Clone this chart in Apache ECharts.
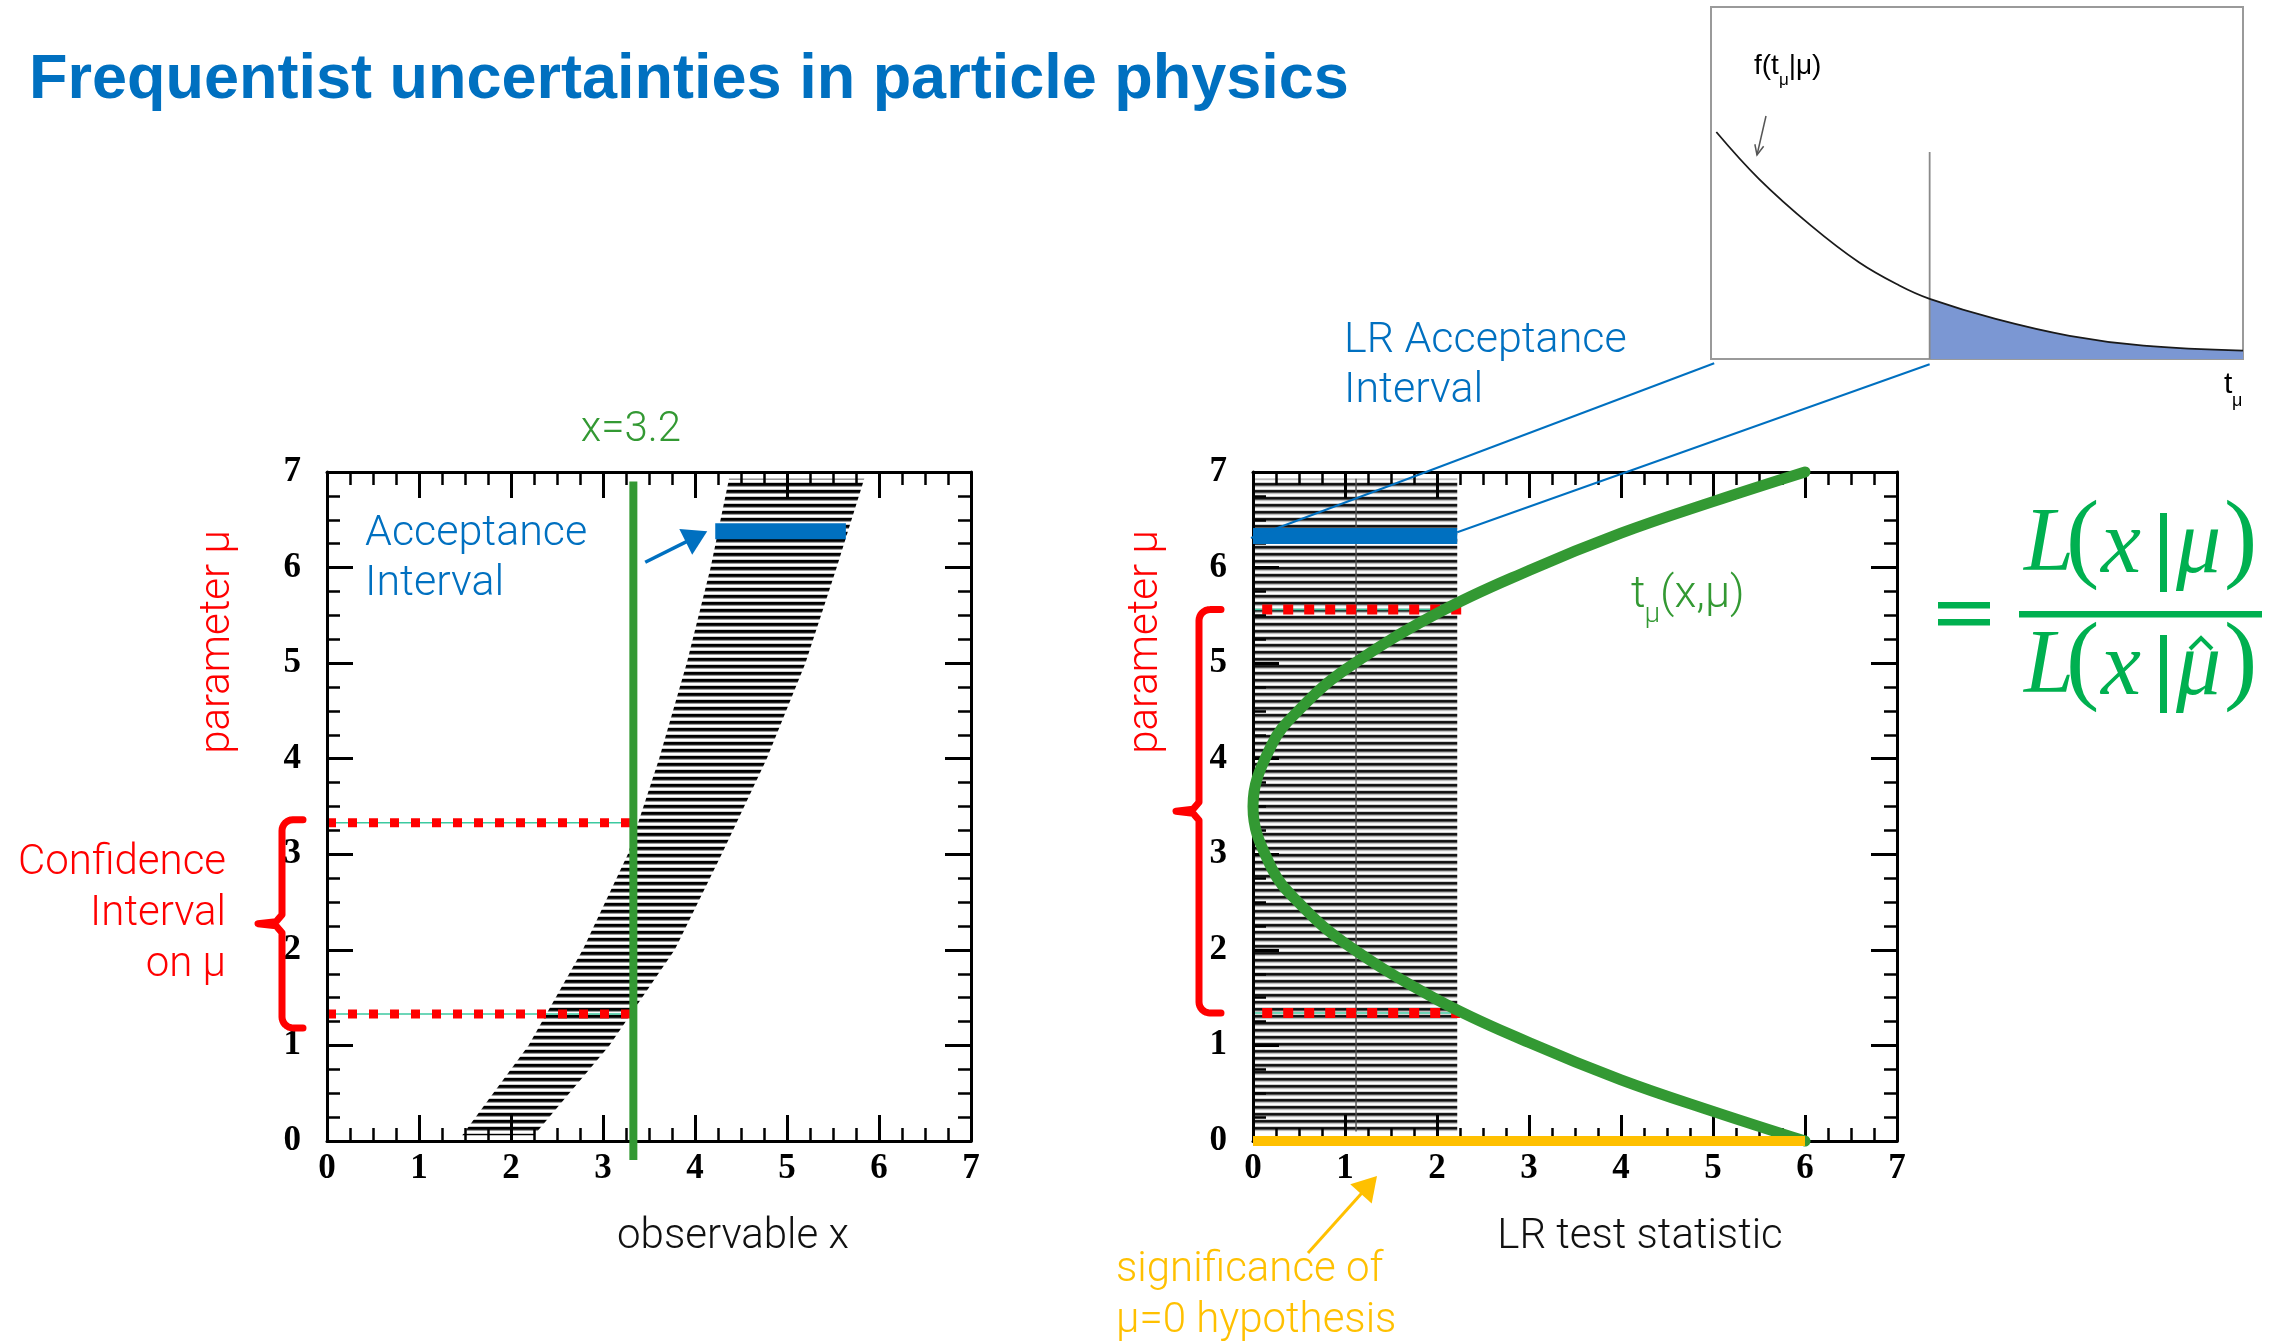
<!DOCTYPE html>
<html><head><meta charset="utf-8">
<script src="https://cdn.jsdelivr.net/npm/echarts@6/dist/echarts.min.js"></script>
<style>html,body{margin:0;padding:0;background:#fff}#c{width:2279px;height:1343px}</style>
</head><body><div id="c"></div>
<script>
// ================= DATA =================
const AXIS_MIN = 0, AXIS_MAX = 7, AXIS_STEP = 1;          // both panels: 0..7 on x and μ
// Left panel: Neyman confidence belt, edges read at several μ
const beltMu    = [0.06, 1.0, 2.0, 3.0, 4.0, 5.0, 6.0, 6.93];
const beltLower = [1.47, 2.19, 2.78, 3.27, 3.61, 3.91, 4.17, 4.37];
const beltUpper = [2.25, 3.07, 3.78, 4.29, 4.78, 5.20, 5.54, 5.84];
const observedX = 3.33;                  // green vertical line (labelled x=3.2)
const observedTop = 6.9;
const ciLeft = [1.33, 3.33];             // confidence interval on μ
const accLeftMu = 6.38, accLeftLo = 4.22, accLeftHi = 5.64;   // acceptance interval
// Right panel: LR test statistic
const tCurveT  = [6.0, 5.0, 4.0, 3.0, 2.0, 1.0, 0.5, 0.2, 0.0, 0.2, 0.5, 1.0, 2.0, 3.0, 4.0, 5.0, 6.0];
const tCurveMu = [0.0, 0.31, 0.64, 1.03, 1.48, 2.07, 2.49, 2.86, 3.5, 4.14, 4.51, 4.93, 5.52, 5.97, 6.36, 6.69, 7.0];
const lrCut = 2.22;                      // LR acceptance cut
const hatchMu = [0.1, 6.93];
const hatchSeam = 1.12;
const accRightMu = 6.33;
const ciRight = [1.34, 5.56];
const ciRightX = [0.1, 2.3];
const sigRange = [0, 6];                 // significance of μ=0
// Inset: f(t_μ|μ)
const insetT = [0.10, 0.90, 1.88, 2.78, 3.54, 4.11, 5.35, 6.74, 8.13, 10.0];
const insetF = [0.645, 0.512, 0.379, 0.275, 0.209, 0.171, 0.114, 0.066, 0.038, 0.024];
const insetCut = 4.11, insetCutTop = 0.588;

// ================= STYLE =================
const BLUE = '#0070C0', RED = '#FF0000', GREEN = '#339933', FGREEN = '#00B050', YEL = '#FFC000';
const LIGHT = 'Roboto, "Liberation Sans", sans-serif';

function stripes(rows) {
  const c = document.createElement('canvas'); c.width = 4; c.height = rows.length;
  const g = c.getContext('2d');
  rows.forEach((col, i) => { g.fillStyle = col; g.fillRect(0, i, 4, 1); });
  return { image: c, repeat: 'repeat' };
}
const beltPattern  = stripes(['#000', '#000', '#222', '#999', '#fff', '#fff', '#ccc']);
const hatchPattern = stripes(['#1a1a1a', '#111', '#555', '#bdbdbd', '#f2f2f2', '#fff', '#cfcfcf']);

function axis(g, pos, labels, isY) {
  return {
    type: 'value', gridIndex: g, position: pos, min: AXIS_MIN, max: AXIS_MAX, interval: AXIS_STEP, z: 5,
    axisLine: { show: true, onZero: false, lineStyle: { color: '#000', width: 3 } },
    axisTick: { show: true, inside: true, length: 26, lineStyle: { color: '#000', width: 3 } },
    minorTick: { show: true, splitNumber: 4, length: 13, lineStyle: { color: '#000', width: 2.5 } },
    splitLine: { show: false }, minorSplitLine: { show: false },
    axisLabel: { show: labels, color: '#000', fontFamily: '"Liberation Serif", serif', fontWeight: 'bold',
      fontSize: 35, margin: isY ? 26 : 10 }
  };
}
function seg(xi, yi, pts, style, extra) {
  return Object.assign({
    type: 'line', xAxisIndex: xi, yAxisIndex: yi, data: pts, symbol: 'none', showSymbol: false,
    silent: true, animation: false, lineStyle: style
  }, extra || {});
}
const zip = (a, b) => a.map((v, i) => [v, b[i]]);

const option = {
  backgroundColor: '#fff',
  animation: false,
  grid: [
    { left: 327, top: 472, width: 644, height: 669 },
    { left: 1253, top: 472, width: 644, height: 669 },
    { left: 1711, top: 7, width: 532, height: 352, show: true, borderColor: '#9a9a9a', borderWidth: 2, backgroundColor: 'transparent' }
  ],
  xAxis: [axis(0, 'bottom', true), axis(0, 'top', false), axis(1, 'bottom', true), axis(1, 'top', false),
          { type: 'value', gridIndex: 2, min: 0, max: 10, show: false }],
  yAxis: [axis(0, 'left', true, true), axis(0, 'right', false, true), axis(1, 'left', true, true), axis(1, 'right', false, true),
          { type: 'value', gridIndex: 2, min: 0, max: 1, show: false }],
  series: [
    // ---- left panel ----
    { type: 'custom', xAxisIndex: 0, yAxisIndex: 0, data: [[0]], z: 1, silent: true,
      renderItem: (p, api) => {
        const pts = beltMu.map((m, i) => api.coord([beltLower[i], m]))
          .concat(beltMu.map((m, i) => api.coord([beltUpper[i], m])).reverse());
        return { type: 'polygon', shape: { points: pts }, style: { fill: beltPattern } };
      } },
    seg(0, 0, [[-0.13, ciLeft[1]], [observedX, ciLeft[1]]], { color: '#3CC9A0', width: 1.5 }, { clip: false, z: 3 }),
    seg(0, 0, [[-0.13, ciLeft[0]], [observedX, ciLeft[0]]], { color: '#3CC9A0', width: 1.5 }, { clip: false, z: 3 }),
    seg(0, 0, [[0, ciLeft[1]], [observedX, ciLeft[1]]], { color: RED, width: 9, type: [9, 12], cap: 'butt' }, { z: 4 }),
    seg(0, 0, [[0, ciLeft[0]], [observedX, ciLeft[0]]], { color: RED, width: 9, type: [9, 12], cap: 'butt' }, { z: 4 }),
    seg(0, 0, [[accLeftLo, accLeftMu], [accLeftHi, accLeftMu]], { color: BLUE, width: 16, cap: 'butt' }, { z: 6 }),
    seg(0, 0, [[observedX, observedTop], [observedX, -0.2]], { color: GREEN, width: 8, cap: 'butt' }, { clip: false, z: 10 }),
    // ---- right panel ----
    { type: 'custom', xAxisIndex: 2, yAxisIndex: 2, data: [[0]], z: 1, silent: true,
      renderItem: (p, api) => {
        const a = api.coord([0, hatchMu[1]]), b = api.coord([lrCut, hatchMu[0]]);
        const s1 = api.coord([hatchSeam, hatchMu[1]]), s2 = api.coord([hatchSeam, hatchMu[0]]);
        return { type: 'group', children: [
          { type: 'rect', shape: { x: a[0], y: a[1], width: b[0] - a[0], height: b[1] - a[1] }, style: { fill: hatchPattern } },
          { type: 'line', shape: { x1: s1[0], y1: s1[1], x2: s2[0], y2: s2[1] }, style: { stroke: '#555', lineWidth: 1.5 } }
        ] };
      } },
    seg(2, 2, [[0, accRightMu], [lrCut, accRightMu]], { color: BLUE, width: 16, cap: 'butt' }, { z: 6 }),
    seg(2, 2, [[0, ciRight[1]], [lrCut, ciRight[1]]], { color: '#3CC9A0', width: 1.5 }, { z: 3 }),
    seg(2, 2, [[0, ciRight[0]], [lrCut, ciRight[0]]], { color: '#3CC9A0', width: 1.5 }, { z: 3 }),
    seg(2, 2, [[ciRightX[0], ciRight[1]], [ciRightX[1], ciRight[1]]], { color: RED, width: 10, type: [10, 11], cap: 'butt' }, { z: 4 }),
    seg(2, 2, [[ciRightX[0], ciRight[0]], [ciRightX[1] - 0.05, ciRight[0]]], { color: RED, width: 10, type: [10, 11], cap: 'butt' }, { z: 4 }),
    seg(2, 2, zip(tCurveT, tCurveMu), { color: GREEN, width: 11, cap: 'round' }, { smooth: 0.4, clip: false, z: 8 }),
    seg(2, 2, [[sigRange[0], 0], [sigRange[1], 0]], { color: YEL, width: 10, cap: 'butt' }, { clip: false, z: 10 }),
    // ---- inset ----
    seg(4, 4, zip(insetT.slice(5), insetF.slice(5)), { opacity: 0, width: 0 },
        { smooth: 0.4, areaStyle: { color: '#7B97D3', opacity: 1 }, z: 2 }),
    seg(4, 4, [[insetCut, 0], [insetCut, insetCutTop]], { color: '#8a8a8a', width: 1.8 }, { z: 3 }),
    seg(4, 4, zip(insetT, insetF), { color: '#1a1a1a', width: 1.8 }, { smooth: 0.4, z: 4 })
  ]
};

const chart = echarts.init(document.getElementById('c'));
chart.setOption(option);

// ================= ANNOTATIONS =================
const P = (xi, yi, pt) => chart.convertToPixel({ xAxisIndex: xi, yAxisIndex: yi }, pt);
const mctx = document.createElement('canvas').getContext('2d');
function tw(text, font) { mctx.font = font; return mctx.measureText(text).width; }

function txt(text, x, y, size, color, align, o) {
  o = o || {};
  const fam = o.family || LIGHT, wt = o.weight || 300, st = o.fstyle || 'normal';
  return Object.assign({
    type: 'text', x: x, y: y, z: 100, silent: true, rotation: o.rot || 0,
    style: { text: text, x: 0, y: 0, fontSize: size, fontFamily: fam, fontWeight: wt, fontStyle: st,
      fill: color, textAlign: align || 'left', align: align || 'left', textVerticalAlign: 'middle', verticalAlign: 'middle' }
  });
}
function arrow(x1, y1, x2, y2, color, w, hl, open) {
  const a = Math.atan2(y2 - y1, x2 - x1), hw = hl * (open ? 0.45 : 0.6);
  const bx = x2 - hl * Math.cos(a), by = y2 - hl * Math.sin(a);
  const p1 = [bx + hw * Math.sin(a), by - hw * Math.cos(a)], p2 = [bx - hw * Math.sin(a), by + hw * Math.cos(a)];
  const els = [{ type: 'line', z: 100, silent: true, shape: { x1: x1, y1: y1, x2: open ? x2 : bx + 2 * Math.cos(a), y2: open ? y2 : by + 2 * Math.sin(a) },
    style: { stroke: color, lineWidth: w } }];
  els.push(open
    ? { type: 'polyline', z: 100, silent: true, shape: { points: [p1, [x2, y2], p2] }, style: { stroke: color, lineWidth: w, fill: null } }
    : { type: 'polygon', z: 100, silent: true, shape: { points: [p1, [x2, y2], p2] }, style: { fill: color } });
  return els;
}
function brace(xv, yTop, yBot, endLen, tipLen, color) {
  const r = 11, pts = [];
  pts.push([xv + endLen, yTop]);
  for (let k = 0; k <= 8; k++) { const t = -Math.PI / 2 - k * Math.PI / 16; pts.push([xv + r + r * Math.cos(t), yTop + r + r * Math.sin(t)]); }
  const yMid = (yTop + yBot) / 2;
  pts.push([xv, yMid - 9], [xv - 6, yMid - 2], [xv - tipLen, yMid], [xv - 6, yMid + 2], [xv, yMid + 9]);
  for (let k = 0; k <= 8; k++) { const t = Math.PI + k * Math.PI / 16; pts.push([xv + r + r * Math.cos(t), yBot - r - r * Math.sin(t)]); }
  pts.push([xv + endLen, yBot]);
  return { type: 'polyline', z: 100, silent: true, shape: { points: pts },
    style: { stroke: color, lineWidth: 7, fill: null, lineJoin: 'round', lineCap: 'round' } };
}

const G = [];
// Title
G.push(txt('Frequentist uncertainties in particle physics', 29, 81, 63, BLUE, 'left', { family: '"Liberation Sans", Arial, sans-serif', weight: 'bold' }));
// Left panel labels
G.push(txt('x=3.2', 631, 430, 42, GREEN, 'center'));
G.push(txt('Acceptance', 365, 534, 43, BLUE));
G.push(txt('Interval', 365, 584, 43, BLUE));
G.push(txt('Confidence', 226, 863, 42, RED, 'right'));
G.push(txt('Interval', 226, 914, 42, RED, 'right'));
G.push(txt('on μ', 226, 965, 42, RED, 'right'));
G.push(txt('parameter μ', 218, 642, 42, RED, 'center', { rot: Math.PI / 2 }));
G.push(txt('observable x', 733, 1237, 42, '#111', 'center'));
// Right panel labels
G.push(txt('parameter μ', 1146, 642, 42, RED, 'center', { rot: Math.PI / 2 }));
G.push(txt('LR test statistic', 1640, 1237, 42, '#111', 'center'));
G.push(txt('significance of', 1116, 1270, 42, YEL));
G.push(txt('μ=0 hypothesis', 1116, 1321, 42, YEL));
G.push(txt('LR Acceptance', 1344, 341, 43, BLUE));
G.push(txt('Interval', 1344, 391, 43, BLUE));
// t_μ(x,μ)
{
  const f1 = '300 45px ' + LIGHT, f2 = '300 28px ' + LIGHT;
  const x0 = 1631, w1 = tw('t', f1), w2 = tw('μ', f2);
  G.push(txt('t', x0, 596, 45, GREEN));
  G.push(txt('μ', x0 + w1 - 1, 615, 28, GREEN));
  G.push(txt('(x,μ)', x0 + w1 + w2 - 1, 596, 45, GREEN));
}
// Inset labels
{
  const fam = '"Liberation Sans", Arial, sans-serif';
  const f1 = '400 28px ' + fam, f2 = '400 17px ' + fam;
  let x = 1754;
  G.push(txt('f(t', x, 66, 28, '#000', 'left', { family: fam, weight: 400 })); x += tw('f(t', f1);
  G.push(txt('μ', x, 80, 17, '#000', 'left', { family: fam, weight: 400 })); x += tw('μ', f2);
  G.push(txt('|μ)', x, 66, 28, '#000', 'left', { family: fam, weight: 400 }));
  G.push(txt('t', 2224, 385, 30, '#000', 'left', { family: fam, weight: 400 }));
  G.push(txt('μ', 2232, 401, 18, '#000', 'left', { family: fam, weight: 400 }));
  G.push(...arrow(1766, 116, 1757, 155, '#555', 1.5, 10, true));
}
// Arrows
{
  const tip = P(0, 0, [accLeftLo, accLeftMu]);
  G.push(...arrow(tip[0] - 70, tip[1] + 31, tip[0] - 8, tip[1], BLUE, 3.5, 24, false));
}
G.push(...arrow(1308, 1253, 1377, 1176, YEL, 3, 24, false));
// Braces (span = confidence intervals)
G.push(brace(282, P(0, 0, [0, ciLeft[1]])[1] - 3, P(0, 0, [0, ciLeft[0]])[1] + 14, 21, 24, RED));
G.push(brace(1199, P(2, 2, [0, ciRight[1]])[1], P(2, 2, [0, ciRight[0]])[1], 22, 23, RED));
// Lines linking inset to LR acceptance interval
{
  const a1 = P(4, 4, [0.06, -0.012]), b1 = P(2, 2, [0, accRightMu]);
  const a2 = P(4, 4, [insetCut, -0.015]), b2 = P(2, 2, [lrCut, accRightMu + 0.04]);
  G.push({ type: 'line', z: 90, silent: true, shape: { x1: a1[0], y1: a1[1], x2: b1[0] - 2, y2: b1[1] + 2 }, style: { stroke: BLUE, lineWidth: 2 } });
  G.push({ type: 'line', z: 90, silent: true, shape: { x1: a2[0], y1: a2[1], x2: b2[0], y2: b2[1] }, style: { stroke: BLUE, lineWidth: 2 } });
}
// Formula  = L(x|μ) / L(x|μ̂)
{
  const ff = '"Liberation Serif", "DejaVu Serif", serif';
  G.push({ type: 'rect', z: 100, silent: true, shape: { x: 1938, y: 602, width: 52, height: 6.5 }, style: { fill: FGREEN } });
  G.push({ type: 'rect', z: 100, silent: true, shape: { x: 1938, y: 619, width: 52, height: 6.5 }, style: { fill: FGREEN } });
  G.push({ type: 'rect', z: 100, silent: true, shape: { x: 2019, y: 611, width: 243, height: 6.5 }, style: { fill: FGREEN } });
  [[546, 513, 592], [668, 635, 713]].forEach(([y, bt, bb], row) => {
    G.push(txt('L', 2024, y, 90, FGREEN, 'left', { family: ff, weight: 400, fstyle: 'italic' }));
    G.push(txt('(', 2066, y - 3, 100, FGREEN, 'left', { family: ff, weight: 400 }));
    G.push(txt('x', 2101, y + 2, 90, FGREEN, 'left', { family: ff, weight: 400, fstyle: 'italic' }));
    G.push({ type: 'rect', z: 100, silent: true, shape: { x: 2160, y: bt, width: 7, height: bb - bt }, style: { fill: FGREEN } });
    G.push(txt('μ', 2176, y + 2, 90, FGREEN, 'left', { family: ff, weight: 400, fstyle: 'italic' }));
    G.push(txt(')', 2224, y - 3, 100, FGREEN, 'left', { family: ff, weight: 400 }));
    if (row === 1) {
      G.push({ type: 'polyline', z: 100, silent: true, shape: { points: [[2190, 649], [2201, 638], [2212, 649]] },
        style: { stroke: FGREEN, lineWidth: 4, fill: null } });
    }
  });
}
chart.setOption({ graphic: { elements: G } });
</script>
</body></html>
